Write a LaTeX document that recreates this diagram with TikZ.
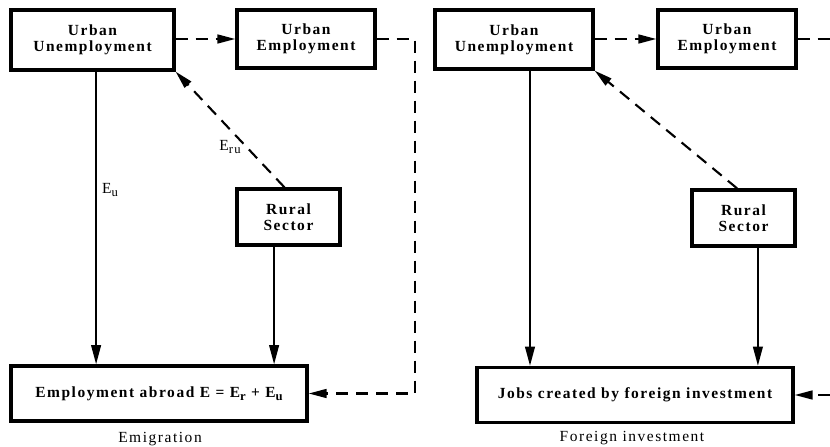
\documentclass[tikz,border=0pt]{standalone}
\usepackage{fontspec}
\setmainfont{Liberation Serif}[LetterSpace=10]
\usetikzlibrary{arrows.meta}
\newcommand{\lowidx}[1]{\raisebox{-0.45ex}{\fontsize{9}{9}\selectfont #1}}

\begin{document}
\begin{tikzpicture}[
    sector/.style={rectangle, draw, line width=2.3pt, minimum width=3.45cm, minimum height=1.45cm, font=\fontsize{11}{11.5}\selectfont\bfseries, align=center},
    outcome/.style={rectangle, draw, line width=2.3pt, minimum height=1.375cm, font=\fontsize{11}{12}\selectfont\bfseries},
    flow/.style={line width=1.5pt, -{Triangle[length=0.48cm, width=0.24cm]}},
    link/.style={line width=1.5pt, dash pattern=on 0.3cm off 0.2cm},
    transfer/.style={link, -{Triangle[length=0.45cm, width=0.22cm]}},
    caption/.style={font=\fontsize{11}{12}\selectfont}
]
    \useasboundingbox (0, 0) rectangle (20.75, 11.175);

    % Emigration
    \node[sector, minimum width=4.075cm, minimum height=1.5cm] (uu1) at (2.3125, 10.175) {Urban\\Unemployment};
    \node[sector] (ue1) at (7.65, 10.2) {Urban\\Employment};
    \node[sector, minimum width=2.575cm, minimum height=1.4cm] (rs1) at (7.2125, 5.75) {Rural\\Sector};
    \node[outcome, minimum width=7.4cm] (ab1) at (3.975, 1.3375) {Employment abroad E = E\lowidx{r} + E\lowidx{u}};
    \node[caption] (cap1) at (4.0, 0.2) {Emigration};

    \coordinate (eu1) at ([xshift=0.09cm]uu1.south);
    \coordinate (er1) at ([xshift=-0.36cm]rs1.south);
    \coordinate (turn1) at (10.375, 0);
    \draw[flow] (eu1) -- (eu1 |- ab1.north);
    \draw[flow] (er1) -- (er1 |- ab1.north);
    \draw[transfer] (uu1.east |- ue1.east) -- (ue1.west);
    \draw[transfer] ([xshift=-0.1cm]rs1.north) -- (uu1.south east);
    \draw[transfer] (ue1.east) -| (turn1 |- ab1.east) -- (ab1.east);
    \node[caption] (lu1) at (2.75, 6.425) {E\lowidx{u}};
    \node[caption] (lru1) at (5.75, 7.5) {E\lowidx{ru}};

    % Foreign investment
    \node[sector, minimum width=3.95cm, minimum height=1.475cm] (uu2) at (12.85, 10.1875) {Urban\\Unemployment};
    \node[sector] (ue2) at (18.175, 10.2) {Urban\\Employment};
    \node[sector, minimum width=2.575cm, minimum height=1.4cm] (rs2) at (18.5875, 5.725) {Rural\\Sector};
    \node[outcome, minimum width=7.9cm] (ab2) at (15.875, 1.3) {Jobs created by foreign investment};
    \node[caption] (cap2) at (15.8, 0.225) {Foreign investment};

    \coordinate (eu2) at ([xshift=0.4cm]uu2.south);
    \coordinate (er2) at ([xshift=0.36cm]rs2.south);
    \coordinate (edge2) at (20.75, 0);
    \draw[flow] (eu2) -- (eu2 |- ab2.north);
    \draw[flow] (er2) -- (er2 |- ab2.north);
    \draw[transfer] (uu2.east |- ue2.east) -- (ue2.west);
    \draw[transfer] ([xshift=-0.16cm]rs2.north) -- (uu2.south east);
    \draw[link] (ue2.east) -- (ue2.east -| edge2);
    \draw[transfer] (ab2.east -| edge2) -- (ab2.east);
\end{tikzpicture}
\end{document}
